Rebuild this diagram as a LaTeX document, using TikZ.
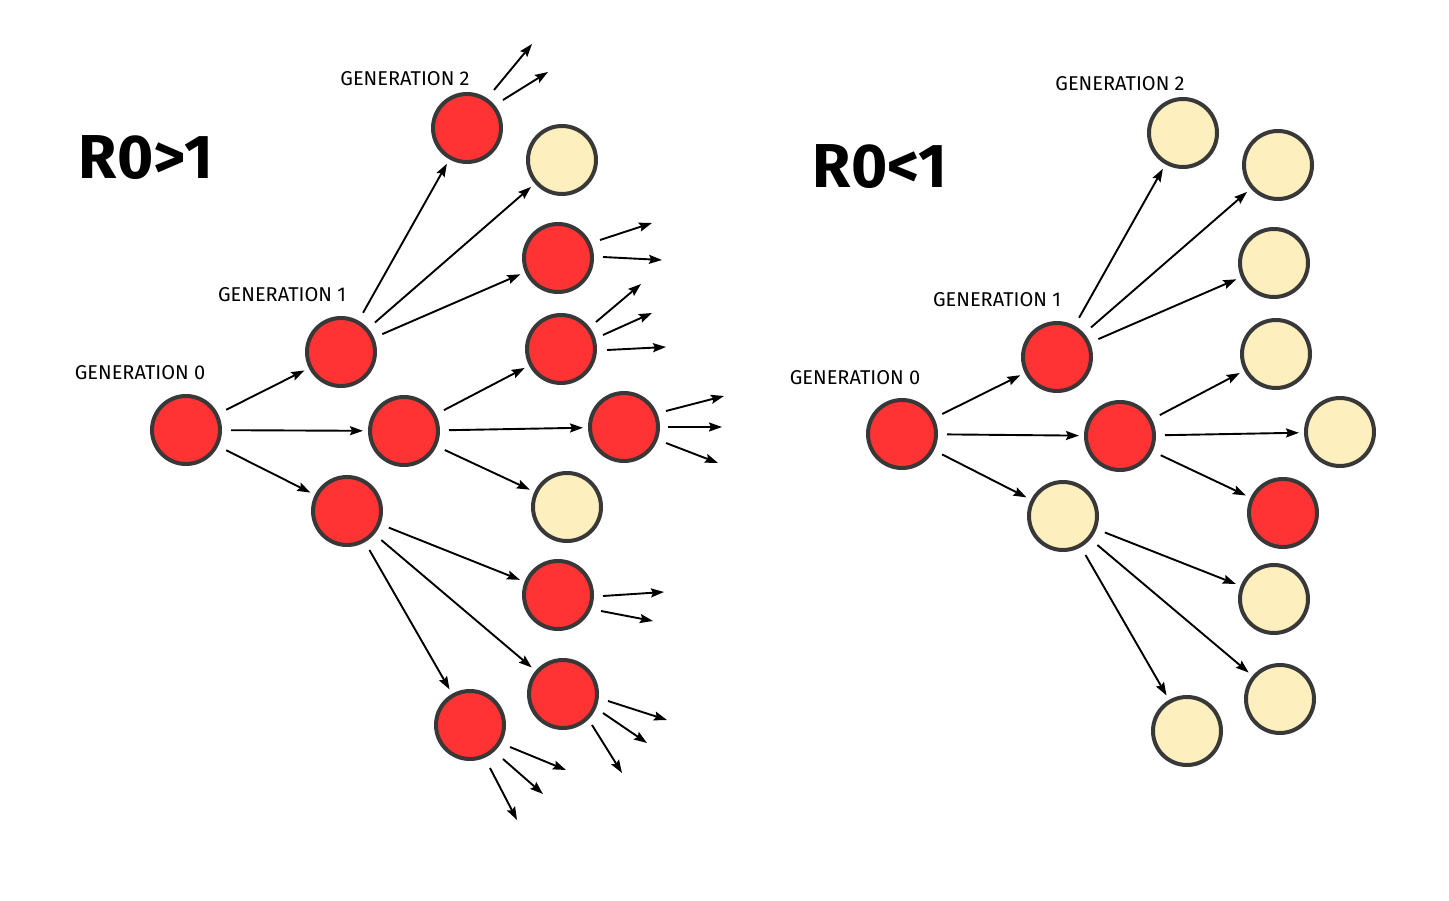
\documentclass[tikz,border=0pt]{standalone}
\usepackage{fontspec}
\setmainfont{Fira Sans}
\usetikzlibrary{arrows.meta}
\definecolor{hotfill}{HTML}{FF3333}
\definecolor{coolfill}{HTML}{FDF0BE}
\definecolor{rim}{HTML}{383838}
\begin{document}
\begin{tikzpicture}[x=1pt,y=-1pt,
  dot/.style={circle, draw=rim, line width=4pt, minimum size=68pt, inner sep=0pt},
  hot/.style={dot, fill=hotfill},
  cool/.style={dot, fill=coolfill},
  conn/.style={-{Stealth[length=13pt,width=9pt,inset=2pt]}, line width=1.9pt, shorten <=9pt, shorten >=5pt},
  free/.style={-{Stealth[length=13pt,width=9pt,inset=2pt]}, line width=1.9pt},
  lab/.style={font=\fontsize{20}{20}\selectfont, inner sep=0pt},
  big/.style={font=\fontsize{62}{62}\selectfont\bfseries, inner sep=0pt}]
\useasboundingbox (0,0) rectangle (1449,901);
\fill[white] (0,0) rectangle (1449,901);

% ---------- left: R0>1 ----------
\node[big] (tl) at (146,158) {R0>1};
\node[lab] (l0lab) at (140,373) {GENERATION 0};
\node[lab] (l1lab) at (282,295) {GENERATION 1};
\node[lab] (l2lab) at (405,79) {GENERATION 2};

\node[hot] (L0) at (186,430) {};
\node[hot] (L1a) at (341,352) {};
\node[hot] (L1b) at (404,431) {};
\node[hot] (L1c) at (347,511) {};
\node[hot] (L2a) at (467,128) {};
\node[cool] (L2b) at (562,160) {};
\node[hot] (L2c) at (558,258) {};
\node[hot] (L2d) at (561,349) {};
\node[hot] (L2e) at (624,427) {};
\node[cool] (L2f) at (567,507) {};
\node[hot] (L2g) at (558,595) {};
\node[hot] (L2h) at (563,694) {};
\node[hot] (L2i) at (470,725) {};

\draw[conn] (L0) -- (L1a);
\draw[conn] (L0) -- (L1b);
\draw[conn] (L0) -- (L1c);
\draw[conn] (L1a) -- (L2a);
\draw[conn] (L1a) -- (L2b);
\draw[conn] (L1a) -- (L2c);
\draw[conn] (L1b) -- (L2d);
\draw[conn] (L1b) -- (L2e);
\draw[conn] (L1b) -- (L2f);
\draw[conn] (L1c) -- (L2g);
\draw[conn] (L1c) -- (L2h);
\draw[conn] (L1c) -- (L2i);

% free arrows
\coordinate (a1s) at (494,90);  \coordinate (a1e) at (532,44);
\coordinate (a2s) at (503,100); \coordinate (a2e) at (548,72);
\coordinate (c1s) at (600,240); \coordinate (c1e) at (652,223);
\coordinate (c2s) at (603,257); \coordinate (c2e) at (662,260);
\coordinate (d1s) at (596,322); \coordinate (d1e) at (641,284);
\coordinate (d2s) at (603,335); \coordinate (d2e) at (652,313);
\coordinate (d3s) at (607,350); \coordinate (d3e) at (666,347);
\coordinate (e1s) at (666,411); \coordinate (e1e) at (724,396);
\coordinate (e2s) at (668,427); \coordinate (e2e) at (722,427);
\coordinate (e3s) at (666,443); \coordinate (e3e) at (718,463);
\coordinate (g1s) at (603,596); \coordinate (g1e) at (664,592);
\coordinate (g2s) at (601,611); \coordinate (g2e) at (653,621);
\coordinate (h1s) at (608,701); \coordinate (h1e) at (667,720);
\coordinate (h2s) at (603,713); \coordinate (h2e) at (647,743);
\coordinate (h3s) at (592,725); \coordinate (h3e) at (622,773);
\coordinate (i1s) at (510,747); \coordinate (i1e) at (566,770);
\coordinate (i2s) at (503,759); \coordinate (i2e) at (543,794);
\coordinate (i3s) at (490,768); \coordinate (i3e) at (517,820);
\foreach \p in {a1,a2,c1,c2,d1,d2,d3,e1,e2,e3,g1,g2,h1,h2,h3,i1,i2,i3}
  \draw[free] (\p s) -- (\p e);

% ---------- right: R0<1 ----------
\node[big] (tr) at (880,167) {R0<1};
\node[lab] (r0lab) at (855,378) {GENERATION 0};
\node[lab] (r1lab) at (997,300) {GENERATION 1};
\node[lab] (r2lab) at (1120,84) {GENERATION 2};

\node[hot] (R0) at (902,434) {};
\node[hot] (R1a) at (1057,357) {};
\node[hot] (R1b) at (1120,436) {};
\node[cool] (R1c) at (1063,516) {};
\node[cool] (R2a) at (1183,133) {};
\node[cool] (R2b) at (1278,165) {};
\node[cool] (R2c) at (1274,263) {};
\node[cool] (R2d) at (1276,354) {};
\node[cool] (R2e) at (1340,432) {};
\node[hot] (R2f) at (1283,513) {};
\node[cool] (R2g) at (1274,599) {};
\node[cool] (R2h) at (1280,699) {};
\node[cool] (R2i) at (1187,731) {};

\draw[conn] (R0) -- (R1a);
\draw[conn] (R0) -- (R1b);
\draw[conn] (R0) -- (R1c);
\draw[conn] (R1a) -- (R2a);
\draw[conn] (R1a) -- (R2b);
\draw[conn] (R1a) -- (R2c);
\draw[conn] (R1b) -- (R2d);
\draw[conn] (R1b) -- (R2e);
\draw[conn] (R1b) -- (R2f);
\draw[conn] (R1c) -- (R2g);
\draw[conn] (R1c) -- (R2h);
\draw[conn] (R1c) -- (R2i);
\end{tikzpicture}
\end{document}
